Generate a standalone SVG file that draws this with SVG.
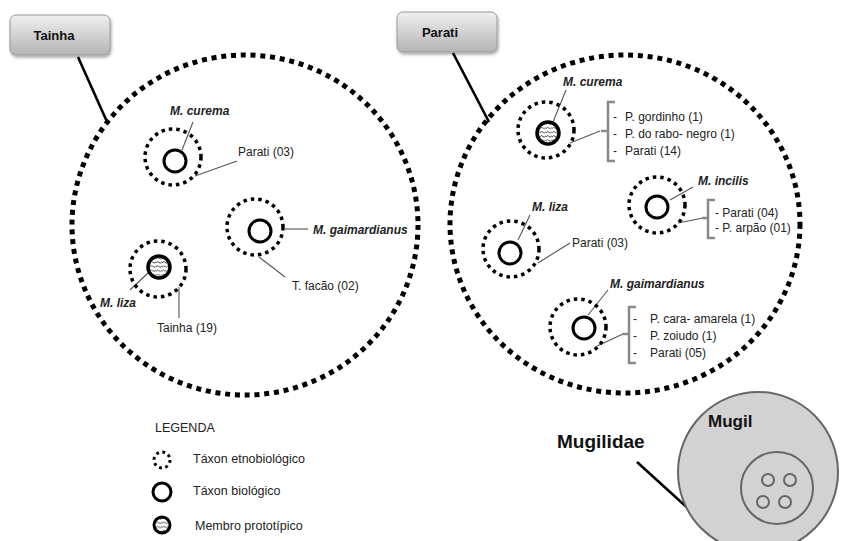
<svg xmlns="http://www.w3.org/2000/svg" width="841" height="541" viewBox="0 0 841 541">
<defs>
<linearGradient id="boxGrad" x1="0" y1="0" x2="0" y2="1">
<stop offset="0" stop-color="#f0f0f0"/>
<stop offset="0.5" stop-color="#d2d2d2"/>
<stop offset="1" stop-color="#b4b4b4"/>
</linearGradient>
<filter id="shadow" x="-20%" y="-20%" width="140%" height="160%">
<feDropShadow dx="1" dy="2" stdDeviation="1.5" flood-color="#000" flood-opacity="0.35"/>
</filter>
<pattern id="wave" patternUnits="userSpaceOnUse" width="6" height="4.2">
<rect width="6" height="4.2" fill="#fff"/>
<path d="M0,2.8 L1.5,1.2 L4.5,2.8 L6,1.2" fill="none" stroke="#000" stroke-width="0.7"/>
</pattern>
<style>
.big{fill:none;stroke:#000;stroke-width:5;stroke-dasharray:5 4.8}
.ethno{fill:none;stroke:#000;stroke-width:3.5;stroke-dasharray:3.5 4}
.bio{fill:none;stroke:#000;stroke-width:3}
.proto{fill:url(#wave);stroke:#000;stroke-width:3.5}
.thin{fill:none;stroke:#555;stroke-width:1.1}
.thick{fill:none;stroke:#000;stroke-width:2.6}
.brk{fill:none;stroke:#8a8a8a;stroke-width:2.5}
.box{fill:url(#boxGrad);stroke:#9a9a9a;stroke-width:1;filter:url(#shadow)}
.lbl{font-family:"Liberation Sans",Arial,sans-serif;font-size:12px;fill:#222}
.sp{font-family:"Liberation Sans",Arial,sans-serif;font-size:12px;font-weight:bold;font-style:italic;fill:#222}
.bx{font-family:"Liberation Sans",Arial,sans-serif;font-size:13px;font-weight:bold;fill:#111}
.leg{font-family:"Liberation Sans",Arial,sans-serif;font-size:12.5px;fill:#222}
.mg{font-family:"Liberation Sans",Arial,sans-serif;font-weight:bold;fill:#111}
.gray{fill:#d2d2d2;stroke:#666;stroke-width:2}
.sm{fill:none;stroke:#666;stroke-width:2}
</style>
</defs>
<rect width="841" height="541" fill="#fff"/>

<g id="connectors">
<line class="thick" x1="78" y1="57" x2="108" y2="124"/>
<line class="thick" x1="453" y1="53" x2="489" y2="122"/>
<line class="thin" x1="193" y1="122" x2="182" y2="150"/>
<line class="thin" x1="237" y1="161" x2="195" y2="176"/>
<line class="thin" x1="285" y1="229" x2="308" y2="229"/>
<line class="thin" x1="259" y1="257" x2="285" y2="277"/>
<line class="thin" x1="148" y1="273" x2="130" y2="290"/>
<line class="thin" x1="179" y1="287" x2="179" y2="318"/>
<line class="thin" x1="566" y1="90" x2="553" y2="122"/>
<line class="thin" x1="600" y1="131" x2="570" y2="143"/>
<line class="thin" x1="693" y1="187" x2="670" y2="200"/>
<line class="thin" x1="703" y1="218" x2="678" y2="223"/>
<line class="thin" x1="530" y1="215" x2="518" y2="240"/>
<line class="thin" x1="570" y1="243" x2="538" y2="263"/>
<line class="thin" x1="608" y1="290" x2="588" y2="315"/>
<line class="thin" x1="623" y1="334" x2="597" y2="346"/>
<line class="thick" x1="735" y1="433" x2="758" y2="458"/>
<line class="thick" x1="637" y1="462" x2="692" y2="512"/>
</g>

<g id="tainha-box">
<rect class="box" x="10" y="15" width="100" height="40" rx="6"/>
<text class="bx" x="54" y="39.5" text-anchor="middle">Tainha</text>
</g>
<g id="parati-box">
<rect class="box" x="397" y="12" width="100" height="40" rx="6"/>
<text class="bx" x="440" y="36.5" text-anchor="middle">Parati</text>
</g>

<g id="tainha-group">
<ellipse class="big" cx="245" cy="225" rx="173" ry="170"/>
</g>
<g id="tainha-curema">
<circle class="ethno" cx="173" cy="157" r="28"/>
<circle class="bio" cx="175" cy="161" r="11"/>
<text class="sp" x="170" y="115">M. curema</text>
<text class="lbl" x="238" y="156">Parati (03)</text>
</g>
<g id="tainha-gaimardianus">
<circle class="ethno" cx="255" cy="227" r="28"/>
<circle class="bio" cx="260" cy="231" r="11"/>
<text class="sp" x="313" y="234">M. gaimardianus</text>
<text class="lbl" x="292" y="290">T. facão (02)</text>
</g>
<g id="tainha-liza">
<circle class="ethno" cx="158" cy="269" r="28"/>
<circle class="proto" cx="159" cy="267" r="11"/>
<text class="sp" x="100" y="307">M. liza</text>
<text class="lbl" x="157" y="332">Tainha (19)</text>
</g>

<g id="parati-group">
<ellipse class="big" cx="625" cy="224" rx="175" ry="169"/>
</g>
<g id="parati-curema">
<circle class="ethno" cx="546" cy="130" r="28"/>
<circle class="proto" cx="548" cy="133" r="11"/>
<text class="sp" x="563" y="86">M. curema</text>
<path class="brk" d="M615,102 H608 V161 H615 M608,131 H601"/>
<text class="lbl" x="613" y="121">-</text>
<text class="lbl" x="625" y="121">P. gordinho (1)</text>
<text class="lbl" x="613" y="138">-</text>
<text class="lbl" x="625" y="138">P. do rabo- negro (1)</text>
<text class="lbl" x="613" y="155">-</text>
<text class="lbl" x="625" y="155">Parati (14)</text>
</g>
<g id="parati-incilis">
<circle class="ethno" cx="657" cy="205" r="28"/>
<circle class="bio" cx="657" cy="207" r="11"/>
<text class="sp" x="698" y="185">M. incilis</text>
<path class="brk" d="M715,200 H708 V238 H715 M708,218 H702"/>
<text class="lbl" x="715" y="217">- Parati (04)</text>
<text class="lbl" x="715" y="232">- P. arpão (01)</text>
</g>
<g id="parati-liza">
<circle class="ethno" cx="511" cy="249" r="28"/>
<circle class="bio" cx="510" cy="253" r="11"/>
<text class="sp" x="532" y="211">M. liza</text>
<text class="lbl" x="572" y="247">Parati (03)</text>
</g>
<g id="parati-gaimardianus">
<circle class="ethno" cx="578" cy="327" r="28"/>
<circle class="bio" cx="584" cy="328" r="11"/>
<text class="sp" x="610" y="288">M. gaimardianus</text>
<path class="brk" d="M636,307 H629 V363 H636 M629,334 H622"/>
<text class="lbl" x="633" y="323">-</text>
<text class="lbl" x="650" y="323">P. cara- amarela (1)</text>
<text class="lbl" x="633" y="340">-</text>
<text class="lbl" x="650" y="340">P. zoiudo (1)</text>
<text class="lbl" x="633" y="357">-</text>
<text class="lbl" x="650" y="357">Parati (05)</text>
</g>

<g id="legend">
<text class="leg" x="155" y="432">LEGENDA</text>
<circle cx="162" cy="460" r="8" fill="none" stroke="#000" stroke-width="3" stroke-dasharray="2.8 3.5"/>
<text class="leg" x="193" y="463">Táxon etnobiológico</text>
<circle class="bio" cx="162" cy="492" r="9"/>
<text class="leg" x="193" y="495">Táxon biológico</text>
<circle class="proto" cx="162" cy="525" r="8" style="stroke-width:3"/>
<text class="leg" x="195" y="530">Membro  prototípico</text>
</g>

<g id="mugilidae">
<circle class="gray" cx="758" cy="472" r="80"/>
<text class="mg" x="557" y="448" font-size="19">Mugilidae</text>
</g>
<g id="mugil">
<circle class="gray" cx="777" cy="488" r="36"/>
<circle class="sm" cx="768" cy="480" r="6"/>
<circle class="sm" cx="790" cy="480" r="6"/>
<circle class="sm" cx="763" cy="502" r="6"/>
<circle class="sm" cx="785" cy="502" r="6"/>
<text class="mg" x="708" y="427" font-size="17">Mugil</text>
</g>
</svg>
